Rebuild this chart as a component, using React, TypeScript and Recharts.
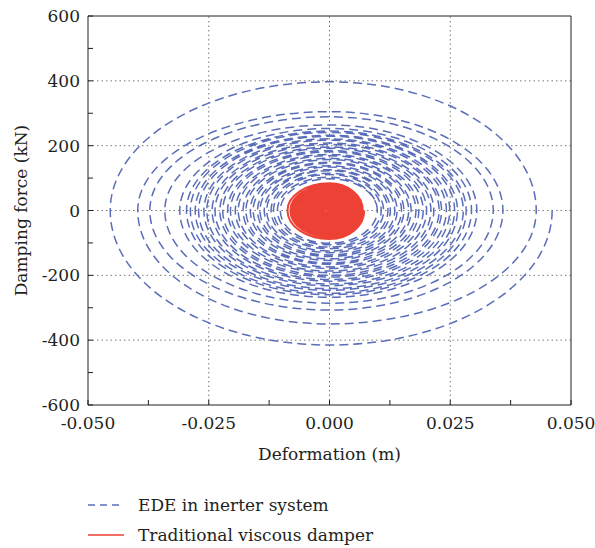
import React from 'react';
import {
  LineChart,
  Line,
  XAxis,
  YAxis,
  ReferenceLine,
  Legend
} from 'recharts';

// EDE in inerter system: extremes of each hysteresis cycle
const edeDispPos = [0.0461, 0.0428, 0.0359, 0.0339, 0.0305, 0.0294, 0.0283, 0.0277, 0.0265, 0.0259, 0.0249, 0.0242, 0.0232, 0.0227, 0.0216, 0.0210, 0.0201, 0.0194, 0.0185, 0.0179, 0.0169, 0.0164, 0.0154, 0.0149, 0.0140, 0.0135, 0.0126, 0.0121, 0.0112, 0.0107, 0.0099];
const edeForcePos = [397, 305, 289, 264, 253, 245, 241, 232, 229, 221, 217, 208, 204, 196, 192, 185, 181, 173, 169, 161, 157, 149, 146, 138, 134, 126, 123, 115, 111, 103, 98];
const edeDispNeg = [-0.0454, -0.0397, -0.0372, -0.0341, -0.0310, -0.0296, -0.0288, -0.0278, -0.0271, -0.0260, -0.0254, -0.0243, -0.0237, -0.0227, -0.0221, -0.0211, -0.0205, -0.0195, -0.0189, -0.0179, -0.0173, -0.0164, -0.0158, -0.0149, -0.0144, -0.0135, -0.0130, -0.0121, -0.0116, -0.0108, -0.0102];
const edeForceNeg = [-415, -350, -307, -286, -268, -260, -255, -246, -241, -232, -227, -218, -213, -205, -200, -192, -187, -179, -174, -166, -162, -154, -149, -142, -137, -130, -125, -118, -113, -106, -101];

// Traditional viscous damper cycles
const tvdDispPos = [0.0072, 0.0069, 0.0066, 0.0063, 0.006, 0.0056, 0.0053, 0.0049, 0.0046, 0.0042, 0.0039, 0.0035, 0.0031, 0.0028, 0.0024, 0.002, 0.0017, 0.0013, 0.0009, 0.0005, 0.0002];
const tvdForcePos = [84, 79, 76, 73, 70, 66, 62, 58, 54, 50, 46, 42, 37, 33, 29, 25, 20, 16, 11, 7, 3];
const tvdDispNeg = [-0.0087, -0.0081, -0.0077, -0.0074, -0.007, -0.0066, -0.0062, -0.0058, -0.0054, -0.005, -0.0046, -0.0042, -0.0038, -0.0034, -0.003, -0.0026, -0.0022, -0.0018, -0.0014, -0.001, -0.0005];
const tvdForceNeg = [-88, -82, -78, -75, -71, -67, -63, -59, -55, -51, -47, -43, -38, -34, -30, -26, -21, -17, -12, -8, -4];

const xTicks = [-0.05, -0.0375, -0.025, -0.0125, 0, 0.0125, 0.025, 0.0375, 0.05];
const xLabelTicks = [-0.05, -0.025, 0, 0.025, 0.05];
const yTicks = [-600, -500, -400, -300, -200, -100, 0, 100, 200, 300, 400, 500, 600];
const yLabelTicks = [-600, -400, -200, 0, 200, 400, 600];
const xGrid = [-0.025, 0, 0.025];
const yGrid = [-400, -200, 0, 200, 400];

const BLUE = '#5A6DB9';
const RED = '#EE4136';
const INK = '#231F20';
const FONT = '"DejaVu Serif", serif';

// extremes in order: right, bottom, left, top, right, ...
const toPath = (xp: number[], fp: number[], xn: number[], fn: number[]) => {
  const pts: { x: number; f: number }[] = [];
  xp.forEach((_, i) => {
    pts.push({ x: xp[i], f: 0 });
    pts.push({ x: 0, f: fn[i] });
    pts.push({ x: xn[i], f: 0 });
    pts.push({ x: 0, f: fp[i] });
  });
  pts.push({ x: xp[xp.length - 1], f: 0 });
  return pts;
};

const edeData = toPath(edeDispPos, edeForcePos, edeDispNeg, edeForceNeg);
const tvdData = toPath(tvdDispPos, tvdForcePos, tvdDispNeg, tvdForceNeg);

// curve through loop extremes using quarter-ellipse beziers
const loopCurve = (context: any) => {
  let pts: number[][] = [];
  return {
    areaStart() {},
    areaEnd() {},
    lineStart() {
      pts = [];
    },
    point(x: number, y: number) {
      pts.push([+x, +y]);
    },
    lineEnd() {
      if (!pts.length) return;
      const k = 0.5523;
      context.moveTo(pts[0][0], pts[0][1]);
      for (let i = 1; i < pts.length; i++) {
        const [x0, y0] = pts[i - 1];
        const [x1, y1] = pts[i];
        if ((i - 1) % 2 === 0) {
          context.bezierCurveTo(x0, y0 + k * (y1 - y0), x1 + k * (x0 - x1), y1, x1, y1);
        } else {
          context.bezierCurveTo(x0 + k * (x1 - x0), y0, x1, y1 + k * (y0 - y1), x1, y1);
        }
      }
    }
  };
};

const legendDash: Record<string, string | undefined> = {
  'EDE in inerter system': '7 5',
  'Traditional viscous damper': undefined
};

const renderLegend = (props: any) => (
  <div style={{ fontFamily: FONT, fontSize: 17, color: INK }}>
    {(props.payload || []).map((entry: any) => (
      <div key={entry.value} style={{ display: 'flex', alignItems: 'center', height: 30 }}>
        <svg width={36} height={10} style={{ marginRight: 14 }}>
          <line x1={0} y1={5} x2={36} y2={5} stroke={entry.color} strokeWidth={1.4} strokeDasharray={legendDash[entry.value]} />
        </svg>
        <span>{entry.value}</span>
      </div>
    ))}
  </div>
);

const fmtX = (v: number) => (xLabelTicks.some((t) => Math.abs(t - v) < 1e-9) ? v.toFixed(3) : '');
const fmtY = (v: number) => (yLabelTicks.includes(v) ? String(v) : '');

const App: React.FC = () => {
  const tickStyle = { fill: INK, fontSize: 17, fontFamily: FONT };
  return (
    <div style={{ position: 'absolute', left: 0, top: 0, fontFamily: FONT }}>
      <LineChart width={595} height={548} margin={{ top: 15, right: 23, left: 0, bottom: 83 }}>
        <XAxis
          dataKey="x"
          type="number"
          domain={[-0.05, 0.05]}
          ticks={xTicks}
          tickFormatter={fmtX}
          interval={0}
          height={60}
          tick={tickStyle}
          tickSize={-5}
          tickMargin={17}
          stroke={INK}
          label={{ value: 'Deformation (m)', position: 'insideBottom', offset: 5, fill: INK, fontSize: 17 }}
        />
        <XAxis
          xAxisId="top"
          orientation="top"
          dataKey="x"
          type="number"
          domain={[-0.05, 0.05]}
          ticks={xTicks}
          tickFormatter={() => ''}
          interval={0}
          height={1}
          tickSize={-5}
          stroke={INK}
        />
        <YAxis
          dataKey="f"
          type="number"
          domain={[-600, 600]}
          ticks={yTicks}
          tickFormatter={fmtY}
          interval={0}
          width={88}
          tick={tickStyle}
          tickSize={-5}
          tickMargin={13}
          stroke={INK}
          label={{ value: 'Damping force (kN)', angle: -90, position: 'insideLeft', offset: 21, fill: INK, fontSize: 17, style: { textAnchor: 'middle' } }}
        />
        <YAxis
          yAxisId="right"
          orientation="right"
          dataKey="f"
          type="number"
          domain={[-600, 600]}
          ticks={yTicks}
          tickFormatter={() => ''}
          interval={0}
          width={1}
          tickSize={-5}
          stroke={INK}
        />
        {xGrid.map((v) => (
          <ReferenceLine key={'gx' + v} x={v} stroke="#777" strokeDasharray="1.5 3" strokeWidth={1} />
        ))}
        {yGrid.map((v) => (
          <ReferenceLine key={'gy' + v} y={v} stroke="#777" strokeDasharray="1.5 3" strokeWidth={1} />
        ))}
        <Line
          data={edeData}
          dataKey="f"
          name="EDE in inerter system"
          type={loopCurve as any}
          stroke={BLUE}
          strokeWidth={1.5}
          strokeDasharray="9 5"
          dot={false}
          activeDot={false}
          isAnimationActive={false}
        />
        <Line
          data={tvdData}
          dataKey="f"
          name="Traditional viscous damper"
          type={loopCurve as any}
          stroke={RED}
          strokeWidth={2}
          dot={false}
          activeDot={false}
          isAnimationActive={false}
        />
        <Legend
          layout="vertical"
          align="center"
          verticalAlign="middle"
          content={renderLegend}
          wrapperStyle={{ left: 88, top: 490, width: 320, height: 60 }}
        />
      </LineChart>
    </div>
  );
};

export default App;
